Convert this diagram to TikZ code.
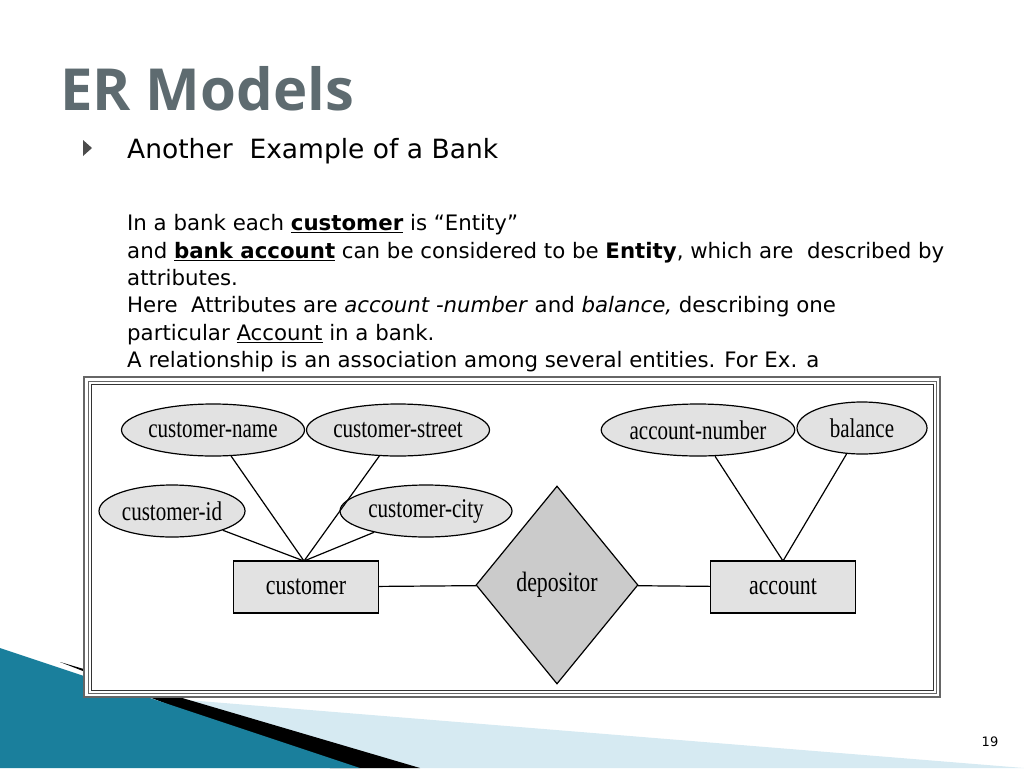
\documentclass[tikz,border=0pt]{standalone}
\usepackage{fontspec}
\setmainfont{DejaVu Sans}
\newfontfamily\titlefont{Open Sans}
\newfontfamily\erfont[FakeStretch=0.78]{Liberation Serif}
\usetikzlibrary{shapes.geometric}
\definecolor{titlegray}{HTML}{5E6B70}
\definecolor{teal}{HTML}{1A7F9C}
\definecolor{paleblue}{HTML}{D6EAF2}
\definecolor{shape}{HTML}{E2E2E2}
\tikzset{
  attr/.style={ellipse, draw, line width=1.2pt, fill=shape, inner sep=0pt, font=\erfont\fontsize{27}{27}\selectfont},
  entity/.style={rectangle, draw, line width=1.2pt, fill=shape, minimum width=145pt, minimum height=52pt, font=\erfont\fontsize{28}{28}\selectfont},
  relation/.style={diamond, draw, line width=1.2pt, fill=shape!90!black, minimum width=162pt, minimum height=198pt, inner sep=0pt, font=\erfont\fontsize{28}{28}\selectfont},
  link/.style={line width=1.2pt},
  body/.style={anchor=base west, inner sep=0pt, font=\fontsize{21.3}{24}\selectfont}
}
\begin{document}
\begin{tikzpicture}[x=1pt,y=-1pt]
\useasboundingbox (0,0) rectangle (1024,768);
% corner decoration
\fill[paleblue] (150,697) -- (1024,768) -- (150,768) -- cycle;
\fill[black] (60,662) -- (420,768) -- (330,768) -- cycle;
\fill[teal] (0,648) -- (360,768) -- (0,768) -- cycle;
% title and text
\node[anchor=base west, inner sep=0pt, text=titlegray, font=\titlefont\bfseries\fontsize{58}{58}\selectfont] (title) at (60,110) {ER Models};
\fill[black!70] (83,140) -- (92,148) -- (83,156) -- cycle;
\node[anchor=base west, inner sep=0pt, font=\fontsize{26.5}{30}\selectfont] (sub) at (127,158) {Another\ \ Example of a Bank};
\node[body] (l1) at (127,230) {In a bank each \textbf{\underline{customer}} is “Entity”};
\node[body] (l2) at (127,258) {and \textbf{\underline{bank account}} can be considered to be \textbf{Entity}, which are\ \ described by};
\node[body] (l3) at (127,285) {attributes.};
\node[body] (l4) at (127,312) {Here\ \ Attributes are \textit{account -number} and \textit{balance,} describing one};
\node[body] (l5) at (127,340) {particular \underline{Account} in a bank.};
\node[body] (l6) at (127,367) {A relationship is an association among several entities. For Ex. a};
\node[font=\fontsize{13}{13}\selectfont] (page) at (990,742) {19};
% diagram frame
\fill[white] (83,376) rectangle (941,698);
\draw[black!60, line width=1.5pt] (84,377) rectangle (940,697);
\draw[black!60, line width=1pt] (88,381) rectangle (936,693);
\draw[black!80, line width=0.8pt] (91,384) rectangle (933,690);
% attributes
\node[attr, minimum width=176pt, minimum height=52pt] (cname) at (213,430) {customer-name};
\node[attr, minimum width=174pt, minimum height=52pt] (cstreet) at (398,430) {customer-street};
\node[attr, minimum width=146pt, minimum height=52pt] (cid) at (172,511) {customer-id};
\node[attr, minimum width=172pt, minimum height=52pt] (ccity) at (426,511) {customer-city};
\node[attr, minimum width=172pt, minimum height=52pt] (anum) at (698,430) {account-number};
\node[attr, minimum width=130pt, minimum height=52pt] (bal) at (862,428) {balance};
% entities and relationship
\node[entity] (cust) at (306,587) {customer};
\node[relation] (dep) at (557,585) {depositor};
\node[entity] (acc) at (783,587) {account};
\coordinate (ctop) at (304,561);
\coordinate (atop) at (783,561);
\draw[link] (cname) -- (ctop);
\draw[link] (cstreet) -- (ctop);
\draw[link] (cid) -- (ctop);
\draw[link] (ccity) -- (ctop);
\draw[link] (anum) -- (atop);
\draw[link] (bal) -- (atop);
\draw[link] (cust) -- (dep);
\draw[link] (dep) -- (acc);
\end{tikzpicture}
\end{document}
